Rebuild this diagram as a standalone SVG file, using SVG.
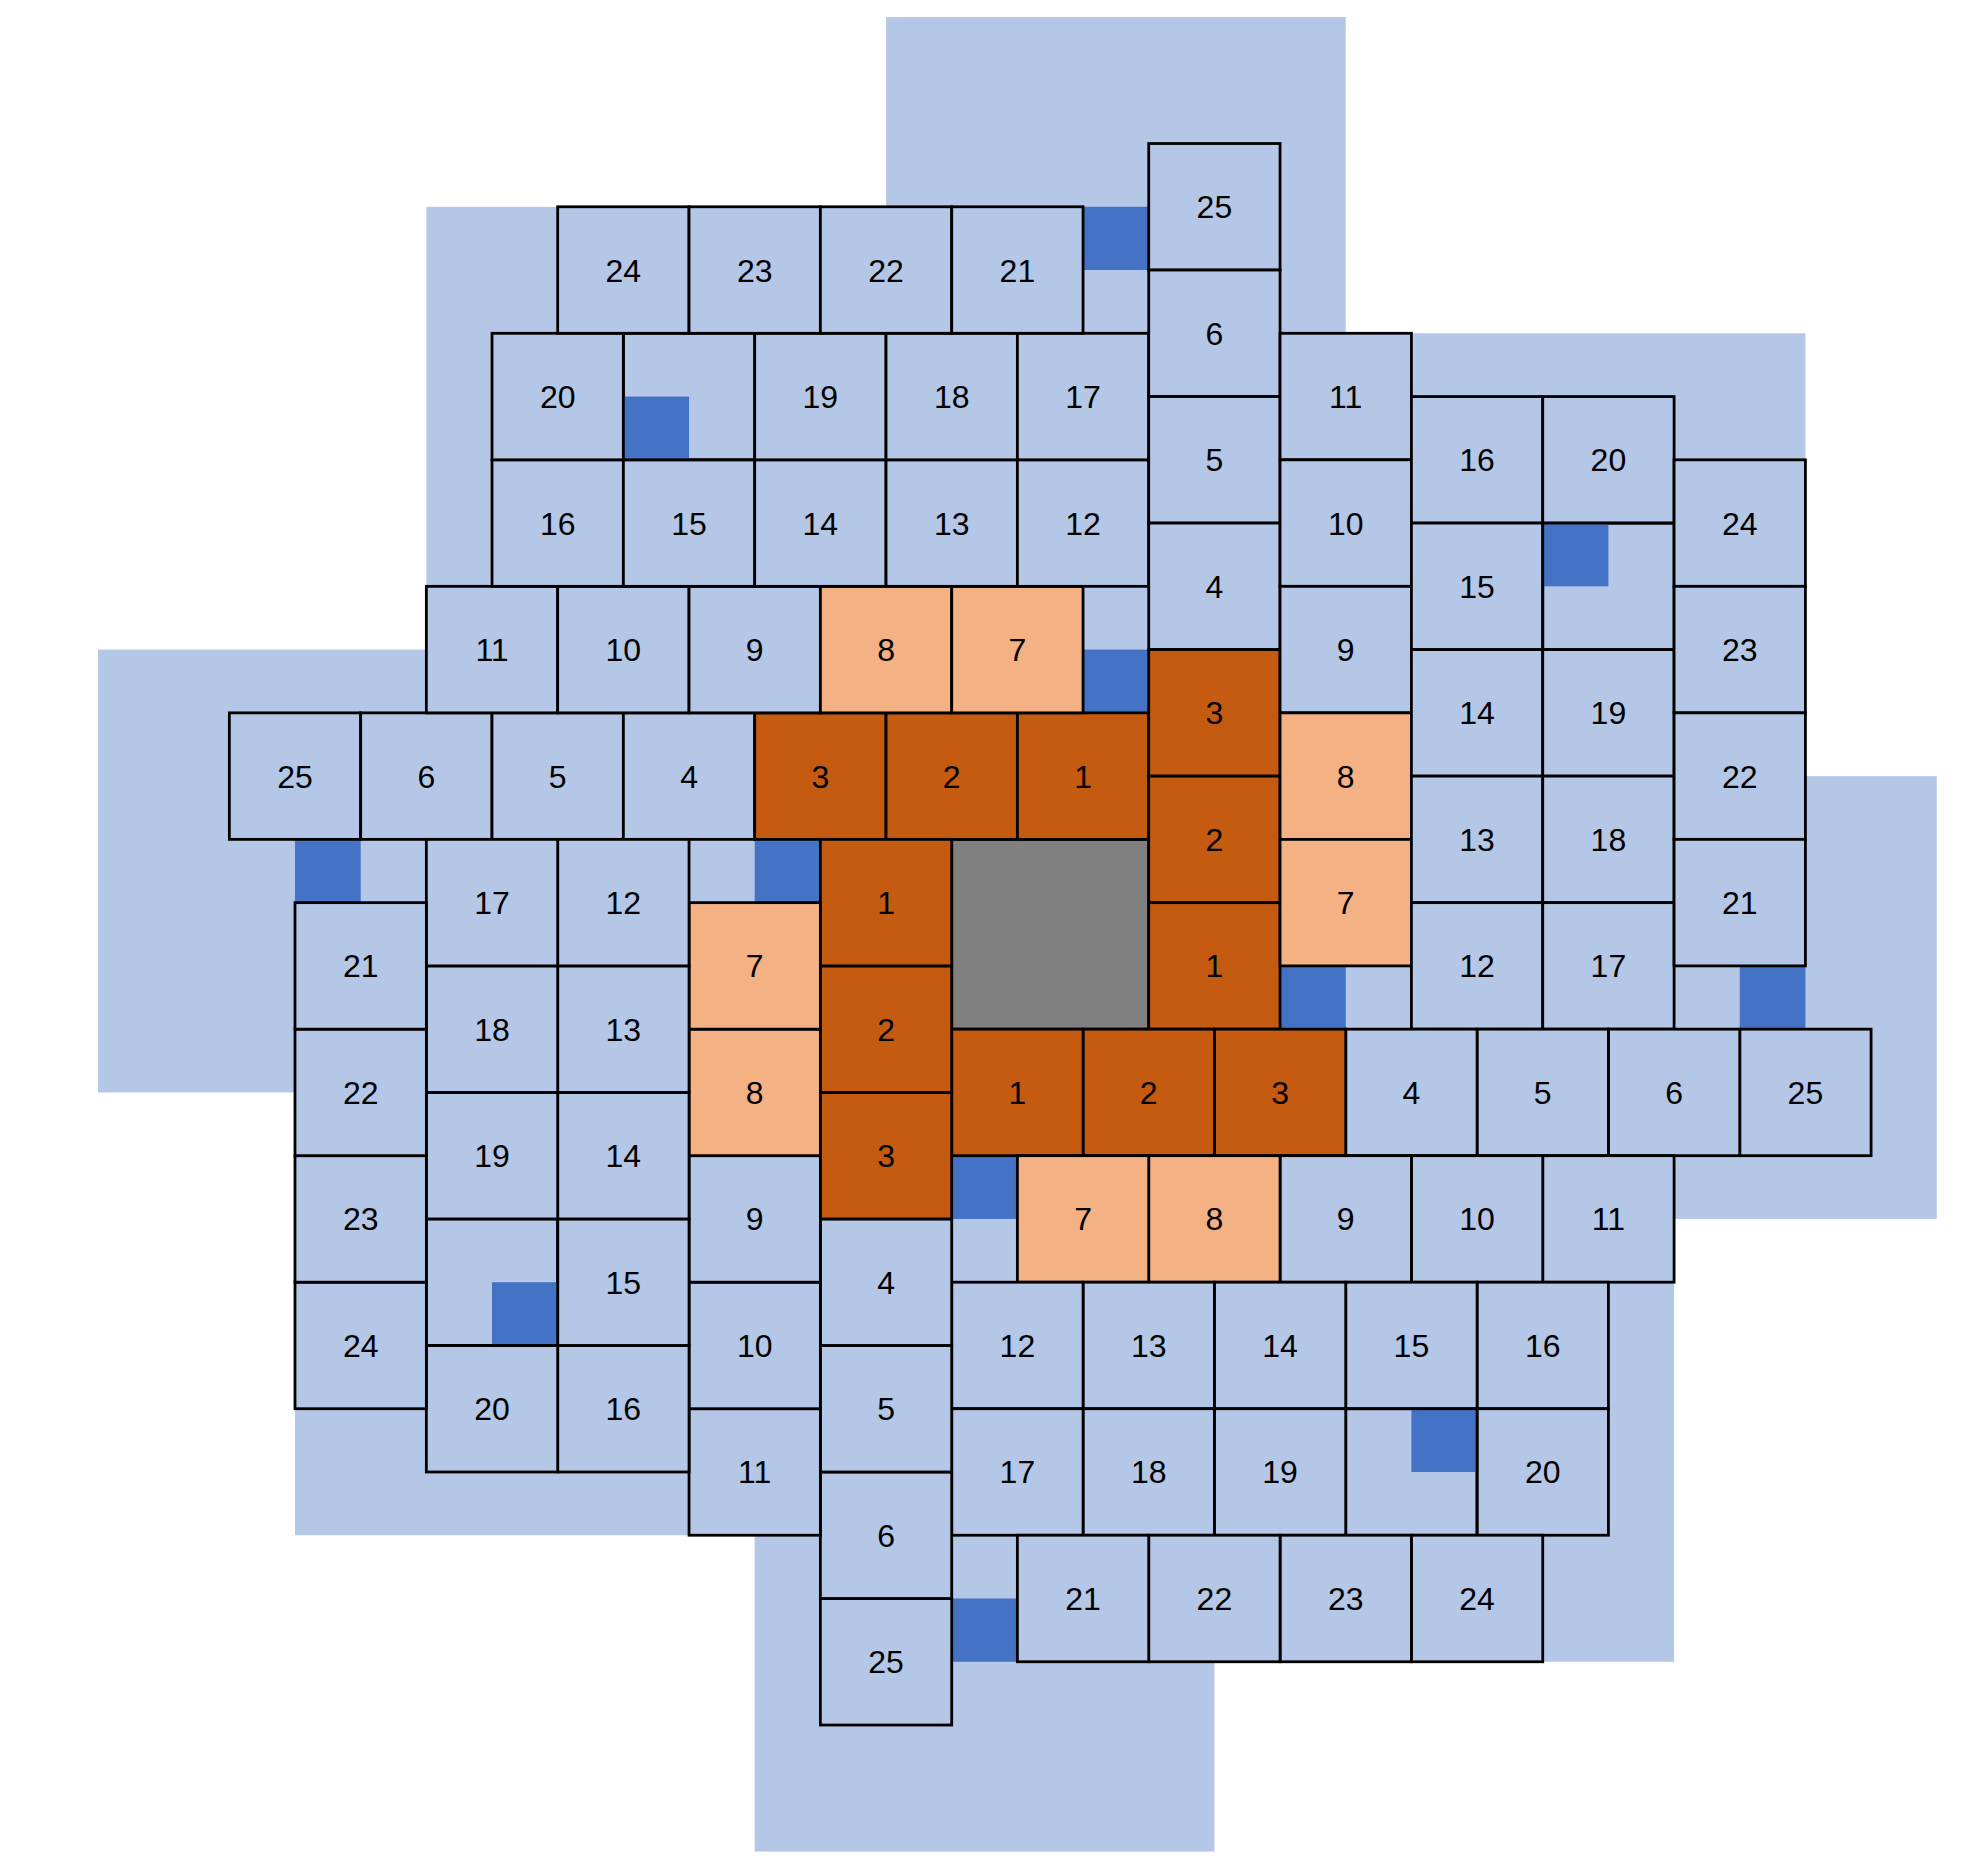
<svg xmlns="http://www.w3.org/2000/svg" width="1974" height="1870" viewBox="0 0 1974 1870">
<style>
.c{fill:#B4C7E7;stroke:#000;stroke-width:2.8}
.o{fill:#C55A11;stroke:#000;stroke-width:2.8}
.lo{fill:#F4B183;stroke:#000;stroke-width:2.8}
.e{fill:none;stroke:#000;stroke-width:2.8}
.g{fill:#808080;stroke:#000;stroke-width:2.8}
.bg{fill:#B4C7E7}
.db{fill:#4472C4}
text{font-family:'Liberation Sans',Arial,sans-serif;font-size:32px;text-anchor:middle;fill:#000}
</style>
<rect width="1974" height="1870" fill="#fff"/>
<g id="background">
<rect class="bg" x="426.35" y="206.78" width="722.37" height="506.08"/>
<rect class="bg" x="1280.06" y="333.3" width="525.36" height="695.86"/>
<rect class="bg" x="951.71" y="1155.68" width="722.37" height="506.08"/>
<rect class="bg" x="295.01" y="839.38" width="525.36" height="695.86"/>
<rect class="bg" x="98" y="649.6" width="788.04" height="442.82"/>
<rect class="bg" x="886.04" y="17" width="459.69" height="759.12"/>
<rect class="bg" x="1214.39" y="776.12" width="722.37" height="442.82"/>
<rect class="bg" x="754.7" y="1092.42" width="459.69" height="759.12"/>
</g>
<g id="markers">
<rect class="db" x="295.01" y="839.38" width="65.67" height="63.26"/>
<rect class="db" x="754.7" y="839.38" width="65.67" height="63.26"/>
<rect class="db" x="1083.05" y="206.78" width="65.67" height="63.26"/>
<rect class="db" x="1083.05" y="649.6" width="65.67" height="63.26"/>
<rect class="db" x="1739.75" y="965.9" width="65.67" height="63.26"/>
<rect class="db" x="1280.06" y="965.9" width="65.67" height="63.26"/>
<rect class="db" x="951.71" y="1598.5" width="65.67" height="63.26"/>
<rect class="db" x="951.71" y="1155.68" width="65.67" height="63.26"/>
</g>
<g id="center"><rect class="g" x="951.71" y="839.38" width="197.01" height="189.78"/></g>

<g id="armA">
<g id="A25"><rect class="c" x="229.34" y="712.86" width="131.34" height="126.52"/><text x="295.01" y="787.62">25</text></g>
<g id="A6"><rect class="c" x="360.68" y="712.86" width="131.34" height="126.52"/><text x="426.35" y="787.62">6</text></g>
<g id="A5"><rect class="c" x="492.02" y="712.86" width="131.34" height="126.52"/><text x="557.69" y="787.62">5</text></g>
<g id="A4"><rect class="c" x="623.36" y="712.86" width="131.34" height="126.52"/><text x="689.03" y="787.62">4</text></g>
<g id="A3"><rect class="o" x="754.7" y="712.86" width="131.34" height="126.52"/><text x="820.37" y="787.62">3</text></g>
<g id="A2"><rect class="o" x="886.04" y="712.86" width="131.34" height="126.52"/><text x="951.71" y="787.62">2</text></g>
<g id="A1"><rect class="o" x="1017.38" y="712.86" width="131.34" height="126.52"/><text x="1083.05" y="787.62">1</text></g>
<g id="A11"><rect class="c" x="426.35" y="586.34" width="131.34" height="126.52"/><text x="492.02" y="661.1">11</text></g>
<g id="A10"><rect class="c" x="557.69" y="586.34" width="131.34" height="126.52"/><text x="623.36" y="661.1">10</text></g>
<g id="A9"><rect class="c" x="689.03" y="586.34" width="131.34" height="126.52"/><text x="754.7" y="661.1">9</text></g>
<g id="A8"><rect class="lo" x="820.37" y="586.34" width="131.34" height="126.52"/><text x="886.04" y="661.1">8</text></g>
<g id="A7"><rect class="lo" x="951.71" y="586.34" width="131.34" height="126.52"/><text x="1017.38" y="661.1">7</text></g>
<g id="A16"><rect class="c" x="492.02" y="459.82" width="131.34" height="126.52"/><text x="557.69" y="534.58">16</text></g>
<g id="A15"><rect class="c" x="623.36" y="459.82" width="131.34" height="126.52"/><text x="689.03" y="534.58">15</text></g>
<g id="A14"><rect class="c" x="754.7" y="459.82" width="131.34" height="126.52"/><text x="820.37" y="534.58">14</text></g>
<g id="A13"><rect class="c" x="886.04" y="459.82" width="131.34" height="126.52"/><text x="951.71" y="534.58">13</text></g>
<g id="A12"><rect class="c" x="1017.38" y="459.82" width="131.34" height="126.52"/><text x="1083.05" y="534.58">12</text></g>
<g id="A20"><rect class="c" x="492.02" y="333.3" width="131.34" height="126.52"/><text x="557.69" y="408.06">20</text></g>
<g id="Ablank"><rect class="db" x="623.36" y="396.56" width="65.67" height="63.26"/><rect class="e" x="623.36" y="333.3" width="131.34" height="126.52"/></g>
<g id="A19"><rect class="c" x="754.7" y="333.3" width="131.34" height="126.52"/><text x="820.37" y="408.06">19</text></g>
<g id="A18"><rect class="c" x="886.04" y="333.3" width="131.34" height="126.52"/><text x="951.71" y="408.06">18</text></g>
<g id="A17"><rect class="c" x="1017.38" y="333.3" width="131.34" height="126.52"/><text x="1083.05" y="408.06">17</text></g>
<g id="A24"><rect class="c" x="557.69" y="206.78" width="131.34" height="126.52"/><text x="623.36" y="281.54">24</text></g>
<g id="A23"><rect class="c" x="689.03" y="206.78" width="131.34" height="126.52"/><text x="754.7" y="281.54">23</text></g>
<g id="A22"><rect class="c" x="820.37" y="206.78" width="131.34" height="126.52"/><text x="886.04" y="281.54">22</text></g>
<g id="A21"><rect class="c" x="951.71" y="206.78" width="131.34" height="126.52"/><text x="1017.38" y="281.54">21</text></g>
</g>

<g id="armB">
<g id="B25"><rect class="c" x="1148.72" y="143.52" width="131.34" height="126.52"/><text x="1214.39" y="218.28">25</text></g>
<g id="B6"><rect class="c" x="1148.72" y="270.04" width="131.34" height="126.52"/><text x="1214.39" y="344.8">6</text></g>
<g id="B5"><rect class="c" x="1148.72" y="396.56" width="131.34" height="126.52"/><text x="1214.39" y="471.32">5</text></g>
<g id="B4"><rect class="c" x="1148.72" y="523.08" width="131.34" height="126.52"/><text x="1214.39" y="597.84">4</text></g>
<g id="B3"><rect class="o" x="1148.72" y="649.6" width="131.34" height="126.52"/><text x="1214.39" y="724.36">3</text></g>
<g id="B2"><rect class="o" x="1148.72" y="776.12" width="131.34" height="126.52"/><text x="1214.39" y="850.88">2</text></g>
<g id="B1"><rect class="o" x="1148.72" y="902.64" width="131.34" height="126.52"/><text x="1214.39" y="977.4">1</text></g>
<g id="B11"><rect class="c" x="1280.06" y="333.3" width="131.34" height="126.52"/><text x="1345.73" y="408.06">11</text></g>
<g id="B10"><rect class="c" x="1280.06" y="459.82" width="131.34" height="126.52"/><text x="1345.73" y="534.58">10</text></g>
<g id="B9"><rect class="c" x="1280.06" y="586.34" width="131.34" height="126.52"/><text x="1345.73" y="661.1">9</text></g>
<g id="B8"><rect class="lo" x="1280.06" y="712.86" width="131.34" height="126.52"/><text x="1345.73" y="787.62">8</text></g>
<g id="B7"><rect class="lo" x="1280.06" y="839.38" width="131.34" height="126.52"/><text x="1345.73" y="914.14">7</text></g>
<g id="B16"><rect class="c" x="1411.4" y="396.56" width="131.34" height="126.52"/><text x="1477.07" y="471.32">16</text></g>
<g id="B15"><rect class="c" x="1411.4" y="523.08" width="131.34" height="126.52"/><text x="1477.07" y="597.84">15</text></g>
<g id="B14"><rect class="c" x="1411.4" y="649.6" width="131.34" height="126.52"/><text x="1477.07" y="724.36">14</text></g>
<g id="B13"><rect class="c" x="1411.4" y="776.12" width="131.34" height="126.52"/><text x="1477.07" y="850.88">13</text></g>
<g id="B12"><rect class="c" x="1411.4" y="902.64" width="131.34" height="126.52"/><text x="1477.07" y="977.4">12</text></g>
<g id="B20"><rect class="c" x="1542.74" y="396.56" width="131.34" height="126.52"/><text x="1608.41" y="471.32">20</text></g>
<g id="Bblank"><rect class="db" x="1542.74" y="523.08" width="65.67" height="63.26"/><rect class="e" x="1542.74" y="523.08" width="131.34" height="126.52"/></g>
<g id="B19"><rect class="c" x="1542.74" y="649.6" width="131.34" height="126.52"/><text x="1608.41" y="724.36">19</text></g>
<g id="B18"><rect class="c" x="1542.74" y="776.12" width="131.34" height="126.52"/><text x="1608.41" y="850.88">18</text></g>
<g id="B17"><rect class="c" x="1542.74" y="902.64" width="131.34" height="126.52"/><text x="1608.41" y="977.4">17</text></g>
<g id="B24"><rect class="c" x="1674.08" y="459.82" width="131.34" height="126.52"/><text x="1739.75" y="534.58">24</text></g>
<g id="B23"><rect class="c" x="1674.08" y="586.34" width="131.34" height="126.52"/><text x="1739.75" y="661.1">23</text></g>
<g id="B22"><rect class="c" x="1674.08" y="712.86" width="131.34" height="126.52"/><text x="1739.75" y="787.62">22</text></g>
<g id="B21"><rect class="c" x="1674.08" y="839.38" width="131.34" height="126.52"/><text x="1739.75" y="914.14">21</text></g>
</g>

<g id="armC">
<g id="C25"><rect class="c" x="1739.75" y="1029.16" width="131.34" height="126.52"/><text x="1805.42" y="1103.92">25</text></g>
<g id="C6"><rect class="c" x="1608.41" y="1029.16" width="131.34" height="126.52"/><text x="1674.08" y="1103.92">6</text></g>
<g id="C5"><rect class="c" x="1477.07" y="1029.16" width="131.34" height="126.52"/><text x="1542.74" y="1103.92">5</text></g>
<g id="C4"><rect class="c" x="1345.73" y="1029.16" width="131.34" height="126.52"/><text x="1411.4" y="1103.92">4</text></g>
<g id="C3"><rect class="o" x="1214.39" y="1029.16" width="131.34" height="126.52"/><text x="1280.06" y="1103.92">3</text></g>
<g id="C2"><rect class="o" x="1083.05" y="1029.16" width="131.34" height="126.52"/><text x="1148.72" y="1103.92">2</text></g>
<g id="C1"><rect class="o" x="951.71" y="1029.16" width="131.34" height="126.52"/><text x="1017.38" y="1103.92">1</text></g>
<g id="C11"><rect class="c" x="1542.74" y="1155.68" width="131.34" height="126.52"/><text x="1608.41" y="1230.44">11</text></g>
<g id="C10"><rect class="c" x="1411.4" y="1155.68" width="131.34" height="126.52"/><text x="1477.07" y="1230.44">10</text></g>
<g id="C9"><rect class="c" x="1280.06" y="1155.68" width="131.34" height="126.52"/><text x="1345.73" y="1230.44">9</text></g>
<g id="C8"><rect class="lo" x="1148.72" y="1155.68" width="131.34" height="126.52"/><text x="1214.39" y="1230.44">8</text></g>
<g id="C7"><rect class="lo" x="1017.38" y="1155.68" width="131.34" height="126.52"/><text x="1083.05" y="1230.44">7</text></g>
<g id="C16"><rect class="c" x="1477.07" y="1282.2" width="131.34" height="126.52"/><text x="1542.74" y="1356.96">16</text></g>
<g id="C15"><rect class="c" x="1345.73" y="1282.2" width="131.34" height="126.52"/><text x="1411.4" y="1356.96">15</text></g>
<g id="C14"><rect class="c" x="1214.39" y="1282.2" width="131.34" height="126.52"/><text x="1280.06" y="1356.96">14</text></g>
<g id="C13"><rect class="c" x="1083.05" y="1282.2" width="131.34" height="126.52"/><text x="1148.72" y="1356.96">13</text></g>
<g id="C12"><rect class="c" x="951.71" y="1282.2" width="131.34" height="126.52"/><text x="1017.38" y="1356.96">12</text></g>
<g id="C20"><rect class="c" x="1477.07" y="1408.72" width="131.34" height="126.52"/><text x="1542.74" y="1483.48">20</text></g>
<g id="Cblank"><rect class="db" x="1411.4" y="1408.72" width="65.67" height="63.26"/><rect class="e" x="1345.73" y="1408.72" width="131.34" height="126.52"/></g>
<g id="C19"><rect class="c" x="1214.39" y="1408.72" width="131.34" height="126.52"/><text x="1280.06" y="1483.48">19</text></g>
<g id="C18"><rect class="c" x="1083.05" y="1408.72" width="131.34" height="126.52"/><text x="1148.72" y="1483.48">18</text></g>
<g id="C17"><rect class="c" x="951.71" y="1408.72" width="131.34" height="126.52"/><text x="1017.38" y="1483.48">17</text></g>
<g id="C24"><rect class="c" x="1411.4" y="1535.24" width="131.34" height="126.52"/><text x="1477.07" y="1610">24</text></g>
<g id="C23"><rect class="c" x="1280.06" y="1535.24" width="131.34" height="126.52"/><text x="1345.73" y="1610">23</text></g>
<g id="C22"><rect class="c" x="1148.72" y="1535.24" width="131.34" height="126.52"/><text x="1214.39" y="1610">22</text></g>
<g id="C21"><rect class="c" x="1017.38" y="1535.24" width="131.34" height="126.52"/><text x="1083.05" y="1610">21</text></g>
</g>

<g id="armD">
<g id="D25"><rect class="c" x="820.37" y="1598.5" width="131.34" height="126.52"/><text x="886.04" y="1673.26">25</text></g>
<g id="D6"><rect class="c" x="820.37" y="1471.98" width="131.34" height="126.52"/><text x="886.04" y="1546.74">6</text></g>
<g id="D5"><rect class="c" x="820.37" y="1345.46" width="131.34" height="126.52"/><text x="886.04" y="1420.22">5</text></g>
<g id="D4"><rect class="c" x="820.37" y="1218.94" width="131.34" height="126.52"/><text x="886.04" y="1293.7">4</text></g>
<g id="D3"><rect class="o" x="820.37" y="1092.42" width="131.34" height="126.52"/><text x="886.04" y="1167.18">3</text></g>
<g id="D2"><rect class="o" x="820.37" y="965.9" width="131.34" height="126.52"/><text x="886.04" y="1040.66">2</text></g>
<g id="D1"><rect class="o" x="820.37" y="839.38" width="131.34" height="126.52"/><text x="886.04" y="914.14">1</text></g>
<g id="D11"><rect class="c" x="689.03" y="1408.72" width="131.34" height="126.52"/><text x="754.7" y="1483.48">11</text></g>
<g id="D10"><rect class="c" x="689.03" y="1282.2" width="131.34" height="126.52"/><text x="754.7" y="1356.96">10</text></g>
<g id="D9"><rect class="c" x="689.03" y="1155.68" width="131.34" height="126.52"/><text x="754.7" y="1230.44">9</text></g>
<g id="D8"><rect class="lo" x="689.03" y="1029.16" width="131.34" height="126.52"/><text x="754.7" y="1103.92">8</text></g>
<g id="D7"><rect class="lo" x="689.03" y="902.64" width="131.34" height="126.52"/><text x="754.7" y="977.4">7</text></g>
<g id="D16"><rect class="c" x="557.69" y="1345.46" width="131.34" height="126.52"/><text x="623.36" y="1420.22">16</text></g>
<g id="D15"><rect class="c" x="557.69" y="1218.94" width="131.34" height="126.52"/><text x="623.36" y="1293.7">15</text></g>
<g id="D14"><rect class="c" x="557.69" y="1092.42" width="131.34" height="126.52"/><text x="623.36" y="1167.18">14</text></g>
<g id="D13"><rect class="c" x="557.69" y="965.9" width="131.34" height="126.52"/><text x="623.36" y="1040.66">13</text></g>
<g id="D12"><rect class="c" x="557.69" y="839.38" width="131.34" height="126.52"/><text x="623.36" y="914.14">12</text></g>
<g id="D20"><rect class="c" x="426.35" y="1345.46" width="131.34" height="126.52"/><text x="492.02" y="1420.22">20</text></g>
<g id="Dblank"><rect class="db" x="492.02" y="1282.2" width="65.67" height="63.26"/><rect class="e" x="426.35" y="1218.94" width="131.34" height="126.52"/></g>
<g id="D19"><rect class="c" x="426.35" y="1092.42" width="131.34" height="126.52"/><text x="492.02" y="1167.18">19</text></g>
<g id="D18"><rect class="c" x="426.35" y="965.9" width="131.34" height="126.52"/><text x="492.02" y="1040.66">18</text></g>
<g id="D17"><rect class="c" x="426.35" y="839.38" width="131.34" height="126.52"/><text x="492.02" y="914.14">17</text></g>
<g id="D24"><rect class="c" x="295.01" y="1282.2" width="131.34" height="126.52"/><text x="360.68" y="1356.96">24</text></g>
<g id="D23"><rect class="c" x="295.01" y="1155.68" width="131.34" height="126.52"/><text x="360.68" y="1230.44">23</text></g>
<g id="D22"><rect class="c" x="295.01" y="1029.16" width="131.34" height="126.52"/><text x="360.68" y="1103.92">22</text></g>
<g id="D21"><rect class="c" x="295.01" y="902.64" width="131.34" height="126.52"/><text x="360.68" y="977.4">21</text></g>
</g>
</svg>
